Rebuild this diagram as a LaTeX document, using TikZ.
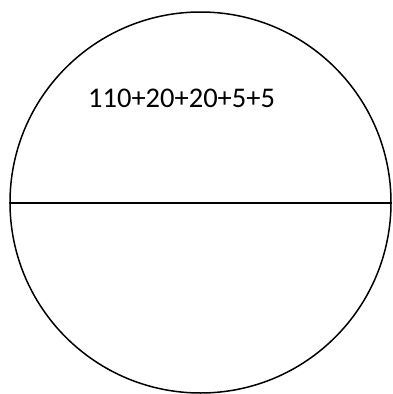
\documentclass[tikz,border=0pt]{standalone}
\usepackage{fontspec}
\setmainfont{Carlito}
\begin{document}
\begin{tikzpicture}[x=1pt,y=1pt,
  ring/.style={circle,draw=black,line width=1.5pt,minimum size=381pt,inner sep=0pt},
  divider/.style={draw=black,line width=1.6pt},
  lbl/.style={anchor=base west,inner sep=0pt,font=\fontsize{28.5}{34}\selectfont}]
\useasboundingbox (0,0) rectangle (392,-394);
\node[ring] (c) at (200.5,-202.5) {};
\coordinate (r) at (392,-203);
\draw[divider] (c.west |- r) -- (r);
\node[lbl] (t) at (88,-107) {110+20+20+5+5};
\end{tikzpicture}
\end{document}
